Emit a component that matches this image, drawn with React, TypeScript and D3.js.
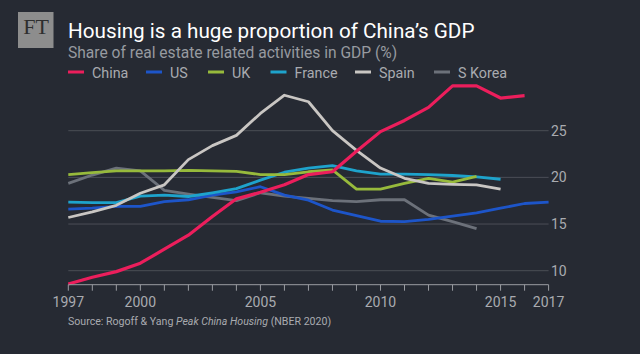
import React from "react";
import * as d3 from "d3";

const years = d3.range(1997, 2018);
const xTicks = years;
const xTickLabels = [1997, 2000, 2005, 2010, 2015, 2017];
const yTicks = [10, 15, 20, 25];

const china = [8.57, 9.3, 9.9, 10.8, 12.3, 13.8, 15.8, 17.7, 18.4, 19.2, 20.3, 20.6, 22.8, 24.9, 26.1, 27.5, 29.8, 29.8, 28.5, 28.75];
const us = [16.6, 16.7, 16.9, 16.9, 17.4, 17.6, 18.1, 18.45, 19.0, 18.1, 17.55, 16.5, 15.9, 15.3, 15.25, 15.5, 15.85, 16.2, 16.7, 17.2, 17.35];
const uk = [20.3, 20.5, 20.7, 20.7, 20.7, 20.75, 20.7, 20.65, 20.3, 20.3, 20.6, 20.8, 18.75, 18.75, 19.35, 19.9, 19.5, 20.1];
const france = [17.35, 17.3, 17.3, 18.0, 18.1, 17.95, 18.35, 18.8, 19.7, 20.55, 21.0, 21.25, 20.7, 20.35, 20.35, 20.3, 20.2, 20.05, 19.8];
const spain = [15.7, 16.3, 17.0, 18.3, 19.2, 21.9, 23.4, 24.5, 26.85, 28.8, 28.1, 25.0, 22.9, 21.0, 19.9, 19.35, 19.25, 19.2, 18.75];
const skorea = [19.35, 20.25, 21.0, 20.7, 18.6, 18.2, 17.85, 17.5, 18.35, 18.0, 17.75, 17.5, 17.4, 17.6, 17.6, 15.95, 15.25, 14.5];

const seriesNames = ["China", "US", "UK", "France", "Spain", "S Korea"];
const seriesValues = [china, us, uk, france, spain, skorea];
const seriesColors = ["#ec1e5c", "#1d55c9", "#97ba3c", "#1ea3cc", "#c9c6c3", "#6c717a"];
const drawOrder = [5, 1, 3, 2, 4, 0];
const legendX = [68, 146, 208, 270.5, 355, 434];

const FONT = "Roboto, 'Open Sans', sans-serif";

export default function App() {
  const W = 640, H = 354;
  const x = d3.scaleLinear().domain([1997, 2017]).range([68.3, 548.6]);
  const y = d3.scaleLinear().domain([10, 25]).range([270.7, 130.7]);
  const axisY = y(8.5);
  const line = d3
    .line<[number, number]>()
    .x((d) => x(d[0]))
    .y((d) => y(d[1]));

  return (
    <svg width={W} height={H} style={{ position: "absolute", left: 0, top: 0, background: "#262a33" }}>
      <rect x={0} y={0} width={W} height={H} fill="#262a33" />
      {/* FT logo */}
      <rect x={18} y={12} width={35.5} height={36} fill="#8d8d8d" />
      <text x={36} y={33.5} textAnchor="middle" fontFamily="'Liberation Serif', 'DejaVu Serif', serif" fontSize={22} fill="#2e2e2e">FT</text>

      <text x={68} y={38.3} fontFamily={FONT} fontSize={20.7} fill="#ffffff">Housing is a huge proportion of China’s GDP</text>
      <text x={68} y={58.3} fontFamily={FONT} fontSize={15.6} fill="#979aa0">Share of real estate related activities in GDP (%)</text>

      {seriesNames.map((n, i) => (
        <g key={n}>
          <line x1={legendX[i]} x2={legendX[i] + 16} y1={72} y2={72} stroke={seriesColors[i]} strokeWidth={3} />
          <text x={legendX[i] + 24} y={78.3} fontFamily={FONT} fontSize={14.3} fill="#a9abb0">{n}</text>
        </g>
      ))}

      {yTicks.map((t) => (
        <g key={t}>
          <line x1={x(1997)} x2={x(2017)} y1={y(t)} y2={y(t)} stroke="#4b4e56" strokeWidth={1} />
          <text x={551} y={y(t) + 5} fontFamily={FONT} fontSize={14} fill="#a9abb0">{t}</text>
        </g>
      ))}

      {drawOrder.map((i) => (
        <path
          key={seriesNames[i]}
          d={line(seriesValues[i].map((v, j) => [years[j], v] as [number, number])) || ""}
          fill="none"
          stroke={seriesColors[i]}
          strokeWidth={i === 0 ? 3.2 : 2.8}
          strokeLinejoin="round"
        />
      ))}

      <line x1={x(1997)} x2={x(2017)} y1={axisY} y2={axisY} stroke="#9a9ca2" strokeWidth={1} />
      {xTicks.map((t) => (
        <line key={t} x1={x(t)} x2={x(t)} y1={axisY} y2={axisY + 6} stroke="#9a9ca2" strokeWidth={1} />
      ))}
      {xTickLabels.map((t) => (
        <text key={t} x={x(t)} y={307} textAnchor="middle" fontFamily={FONT} fontSize={14} fill="#a9abb0">{t}</text>
      ))}

      <text x={68} y={324.5} fontFamily={FONT} fontSize={10.6} fill="#a9abb0">
        Source: Rogoff &amp; Yang <tspan fontStyle="italic">Peak China Housing</tspan> (NBER 2020)
      </text>
    </svg>
  );
}
